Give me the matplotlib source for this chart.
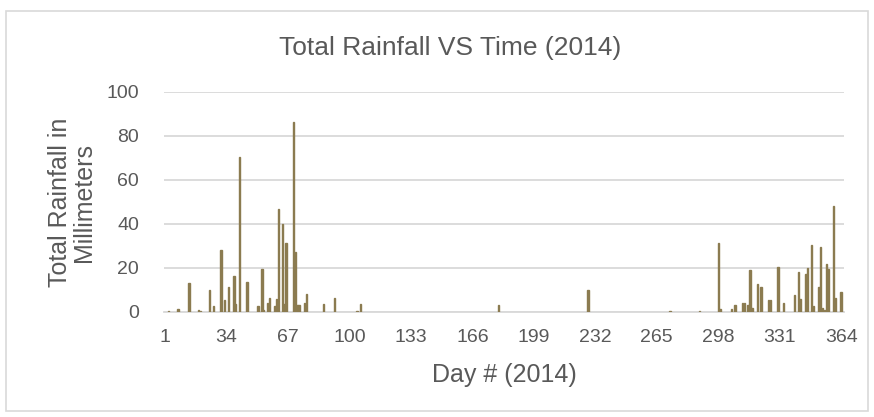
import matplotlib.pyplot as plt
from matplotlib.patches import Rectangle
import numpy as np

# daily rainfall (mm) for the days that had any
days = [3, 8, 14, 19, 20, 25, 27, 31, 33, 35, 38, 39, 41, 45, 51, 53, 54,
        56, 57, 60, 61, 62, 64, 65, 66, 70, 71, 72, 73, 76, 77, 86, 92, 104,
        106, 180, 228, 272, 288, 298, 299, 305, 307, 311, 312, 314, 315, 316,
        319, 321, 325, 326, 330, 333, 339, 341, 342, 345, 346, 348, 349, 352,
        353, 354, 355, 356, 357, 360, 361, 364]
rain = [0.5, 1.4, 13.2, 1.0, 0.6, 10.2, 2.9, 28.4, 5.3, 11.5, 16.5, 3.5, 70.3,
        13.5, 2.6, 19.4, 0.8, 3.9, 6.5, 2.6, 5.8, 47.0, 40.2, 3.6, 31.4, 86.4,
        27.3, 3.0, 3.2, 4.1, 8.3, 3.6, 6.5, 0.5, 3.6, 3.0, 10.2, 0.3, 0.3,
        31.5, 1.5, 1.5, 3.4, 4.0, 4.0, 3.4, 19.0, 2.0, 12.6, 11.5, 5.6, 5.6,
        20.5, 4.3, 7.6, 18.0, 5.9, 17.4, 20.2, 30.3, 2.6, 11.5, 29.4, 2.0,
        1.0, 21.7, 19.6, 48.4, 6.5, 9.0]
tick_days = list(range(1, 365, 33))

text_col = '#595959'
grid_col = '#D9D9D9'
bar_col = '#8B7B50'

plt.rcParams['font.family'] = ['Liberation Sans', 'DejaVu Sans']

fig = plt.figure(figsize=(8.74, 4.17), dpi=100)
ax = fig.add_axes([164/874, 1 - 312/417, 680/874, 220/417])

ax.bar(days, rain, width=0.8, color=bar_col, edgecolor=bar_col, linewidth=1.0, zorder=3)

ax.set_xlim(0.5, 365.5)
ax.set_ylim(0, 100)
ax.set_yticks([0, 20, 40, 60, 80, 100])
ax.set_xticks(tick_days)
ax.grid(axis='y', color=grid_col, linewidth=1.3, zorder=0)
for s in ['top', 'right', 'left']:
    ax.spines[s].set_visible(False)
ax.spines['bottom'].set_color(grid_col)
ax.spines['bottom'].set_linewidth(1.3)
ax.tick_params(axis='both', length=0, labelsize=14, labelcolor=text_col)
ax.tick_params(axis='y', pad=18)
ax.tick_params(axis='x', pad=12)

fig.text(0.515, 0.885, 'Total Rainfall VS Time (2014)', ha='center', va='center',
         fontsize=19, color=text_col)
fig.text(504/874, 1 - 375/417, 'Day # (2014)', ha='center', va='center',
         fontsize=18, color=text_col)
fig.text(72/874, 1 - 202/417, 'Total Rainfall in\nMillimeters', ha='center',
         va='center', rotation=90, fontsize=18, color=text_col, linespacing=1.0)

fig.patches.append(Rectangle((6/874, 6/417), 862/874, 400/417, transform=fig.transFigure,
                             fill=False, edgecolor=grid_col, linewidth=1.2))

fig.savefig('out.png', dpi=100, facecolor='white')
